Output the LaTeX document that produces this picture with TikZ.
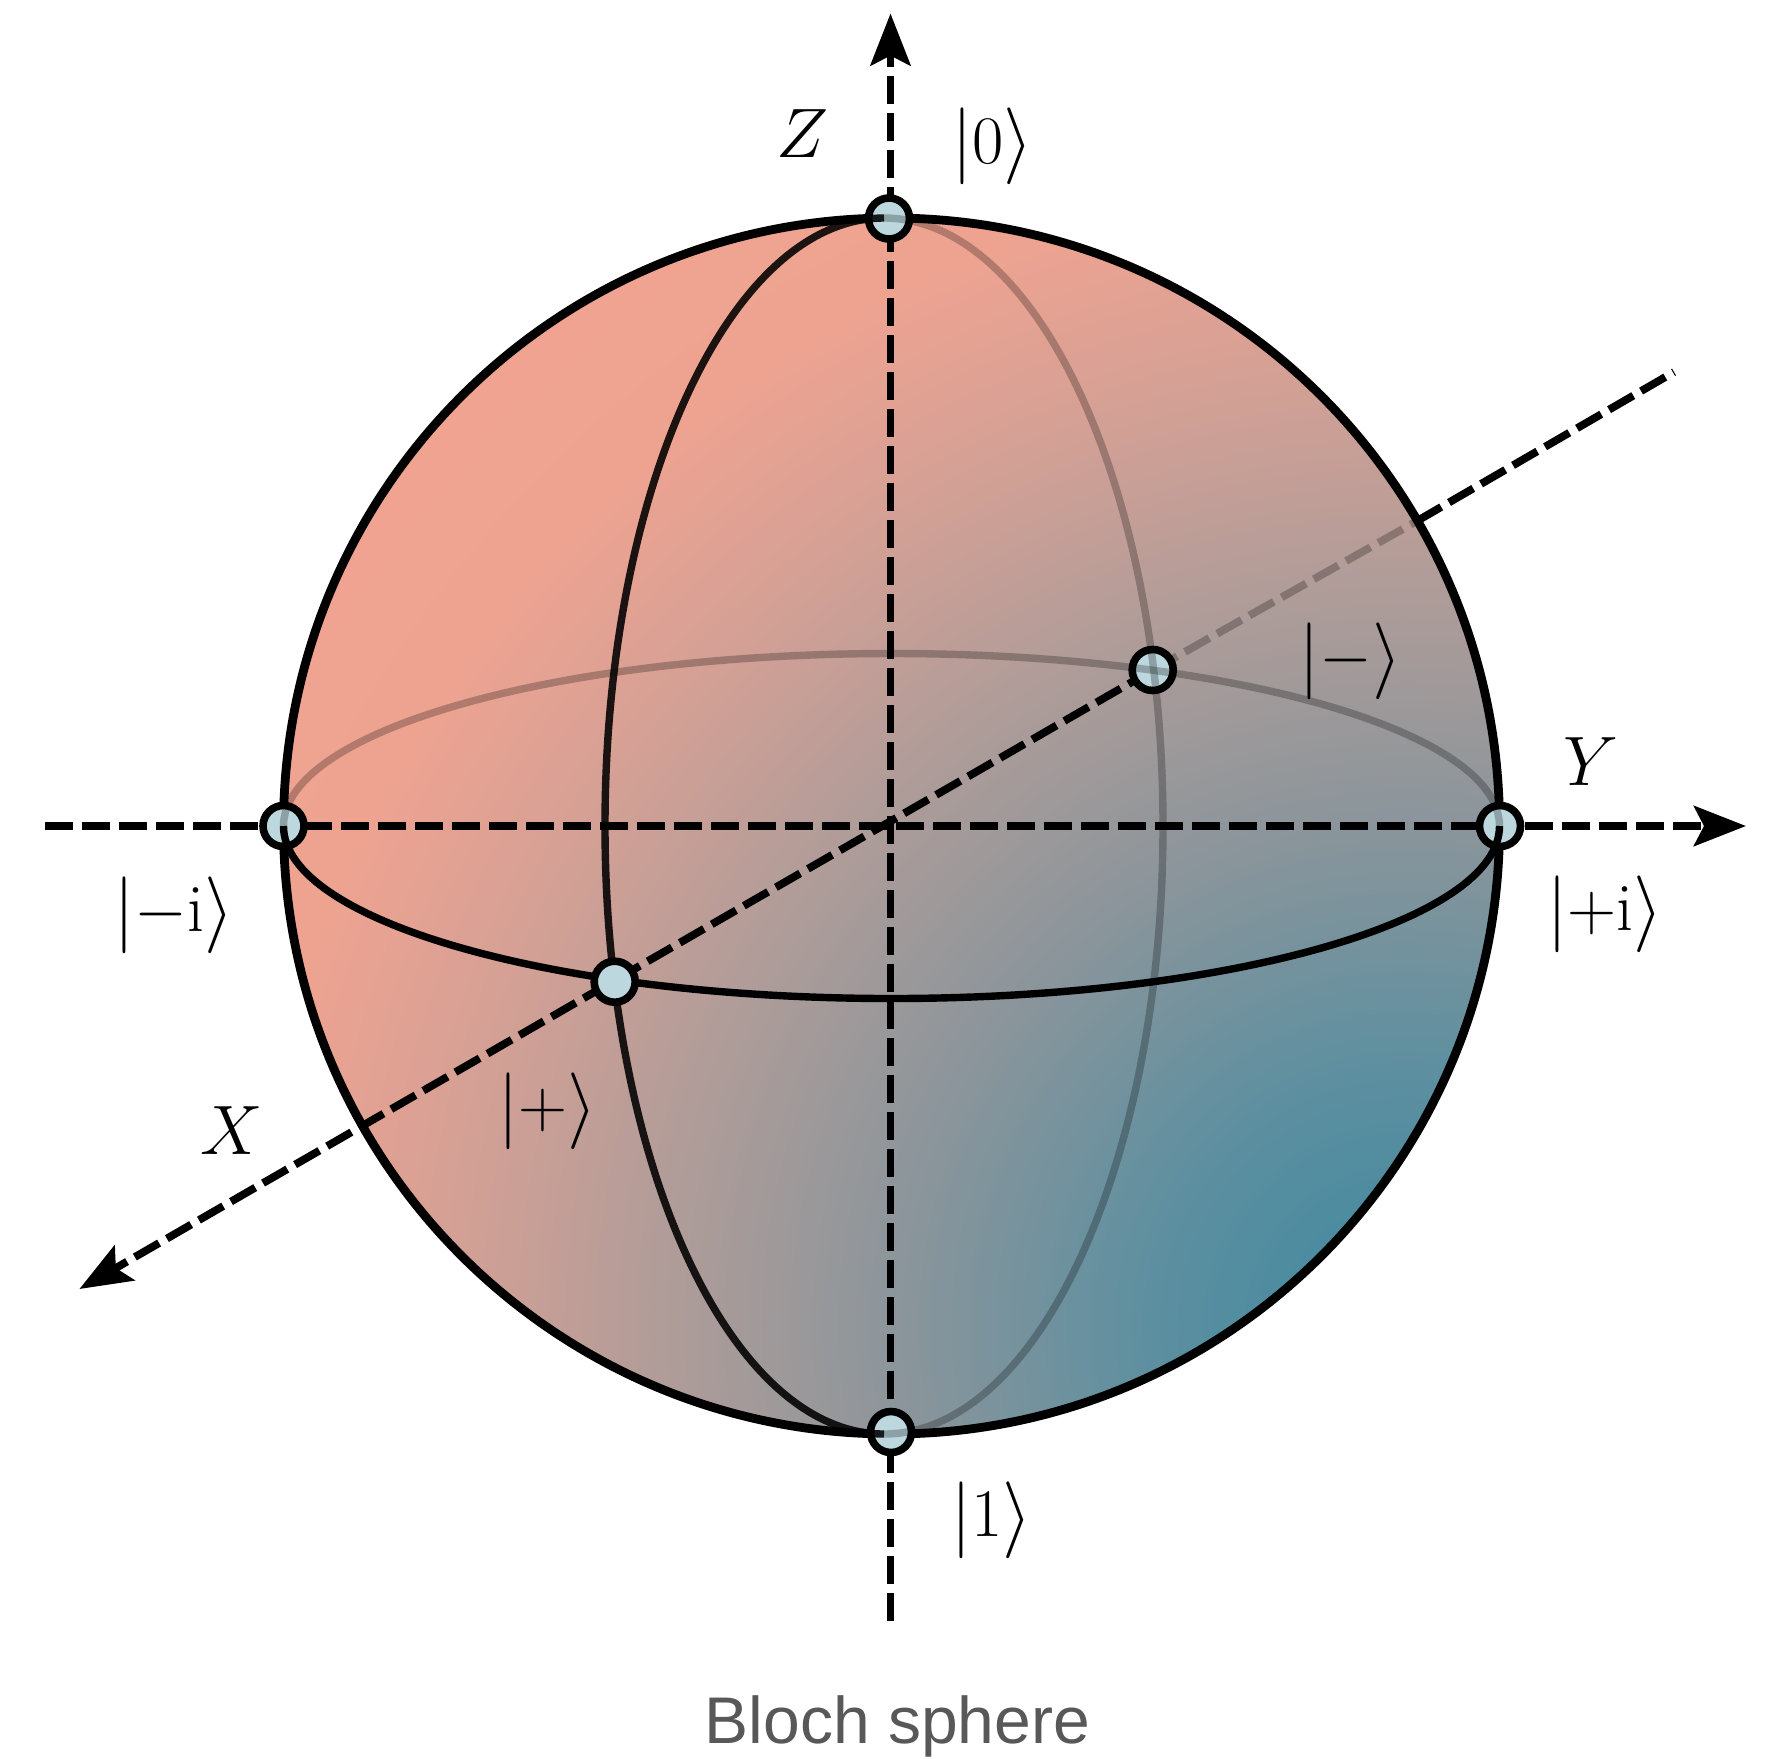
\RequirePackage{fix-cm}
\documentclass[tikz,border=0pt]{standalone}
\usepackage{graphicx}
\usepackage{fontspec}
\newfontfamily\capfont{Liberation Sans}
\usetikzlibrary{arrows.meta}
\definecolor{ptfill}{HTML}{BCD7DE}
\definecolor{capgray}{HTML}{585858}
\definecolor{sh0}{HTML}{3F88A0}
\definecolor{sh1}{HTML}{5C8FA0}
\definecolor{sh2}{HTML}{8A959B}
\definecolor{sh3}{HTML}{AE9C99}
\definecolor{sh4}{HTML}{D3A095}
\definecolor{sh5}{HTML}{EEA391}
\definecolor{sh6}{HTML}{F0A390}
% TikZ maps the central 25bp radius onto the path's bounding box
\pgfdeclareradialshading{blochshade}{\pgfpointorigin}{%
 color(0bp)=(sh0); color(4.46bp)=(sh1); color(8.93bp)=(sh2); color(13.04bp)=(sh3);
 color(16.96bp)=(sh4); color(20.54bp)=(sh5); color(25bp)=(sh6); color(50bp)=(sh6)}
% ket with delimiters a little taller than the normal height
\newcommand{\ketbr}[1]{\ensuremath{\raisebox{-0.04em}{\scalebox{1.05}[1.13]{$|$}}{#1}\raisebox{-0.04em}{\scalebox{1.12}[1.13]{$\rangle$}}}}
\begin{document}
\begin{tikzpicture}[x=0.5pt,y=-0.5pt,
  axisline/.style={line width=3.9pt, dash pattern=on 14pt off 4.5pt},
  headtip/.style={-{Stealth[length=26pt,width=20pt,inset=5pt]}},
  statept/.style={circle, draw=black, line width=3.8pt, fill=ptfill, minimum size=20.5pt, inner sep=0pt},
  backline/.style={line width=3.7pt, draw=black, draw opacity=0.25},
  frontline/.style={line width=3.7pt, draw=black},
  ketlbl/.style={inner sep=0pt, font=\fontsize{34}{42}\selectfont},
  axlbl/.style={inner sep=0pt, font=\fontsize{35}{42}\selectfont}]
\useasboundingbox (0,0) rectangle (1778,1758);

% geometry
\coordinate (C) at (891.5,826);
\coordinate (F) at (1405,1325);
\coordinate (Ztop) at (890.5,13.5);
\coordinate (Zbot) at (890.5,1621);
\coordinate (Yleft) at (45,826);
\coordinate (Yright) at (1746,826);
\coordinate (Xtip) at (79.4,1289);
\coordinate (Xend) at (1674,372);
\coordinate (Xedge) at (1417,521);
\coordinate (mtop) at (884,218);
\coordinate (s0) at (889,218.5);
\coordinate (s1) at (891,1432);
\coordinate (smi) at (283.5,826);
\coordinate (spi) at (1500,826);
\coordinate (splus) at (614.7,981.7);
\coordinate (sminus) at (1152.7,670);

% sphere body
\begin{scope}
  \clip (C) circle[radius=608];
  \shade[shading=blochshade] (F) circle[radius=1400];
\end{scope}

% axes
\draw[axisline,headtip] (Zbot) -- (Ztop);
\draw[axisline,headtip] (Yleft) -- (Yright);
\draw[axisline,headtip] (sminus) -- (Xtip);
\draw[axisline,draw opacity=0.25] (sminus) -- (Xedge);
\draw[axisline] (Xedge) -- (Xend);

% outline
\draw[line width=4.4pt] (C) circle[radius=608];

% state points (behind lines)
\node[statept] (k0) at (s0) {};
\node[statept] (k1) at (s1) {};
\node[statept] (kmi) at (smi) {};
\node[statept] (kpi) at (spi) {};
\node[statept] (kminus) at (sminus) {};

% back halves
\draw[backline] (smi) arc[start angle=180, end angle=360, x radius=608, y radius=172.5];
\draw[backline] (mtop) arc[start angle=270, end angle=450, x radius=279, y radius=608];

% front halves
\draw[frontline] (smi) arc[start angle=180, end angle=0, x radius=608, y radius=172.5];
\draw[frontline, draw opacity=0.88] (mtop) arc[start angle=270, end angle=90, x radius=279, y radius=608];

\node[statept] (kplus) at (splus) {};

% labels
\node[axlbl] (lz) at (802,134) {$Z$};
\node[ketlbl] (l0) at (992.5,146.5) {\ketbr{0}};
\node[ketlbl] (lminus) at (1351,661) {\ketbr{-}};
\node[axlbl] (ly) at (1591,762) {$Y$};
\node[ketlbl] (lpi) at (1605,914) {\ketbr{+\mathrm{i}}};
\node[ketlbl] (lmi) at (174,915) {\ketbr{-\mathrm{i}}};
\node[ketlbl] (lplus) at (548,1111) {\ketbr{+}};
\node[axlbl] (lx) at (232,1131) {$X$};
\node[ketlbl] (l1) at (992,1520) {\ketbr{1}};
\node[font=\capfont\fontsize{33}{40}\selectfont, text=capgray, anchor=base, inner sep=0pt] (cap) at (897.5,1743) {Bloch sphere};
\end{tikzpicture}
\end{document}
